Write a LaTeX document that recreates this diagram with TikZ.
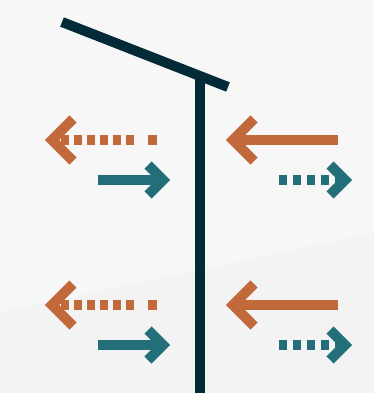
\documentclass[tikz,border=0pt]{standalone}
\usetikzlibrary{calc}
\definecolor{bgtop}{HTML}{F7F7F7}
\definecolor{bgbot}{HTML}{F3F3F3}
\definecolor{orng}{HTML}{C1693B}
\definecolor{teal2}{HTML}{226E79}
\definecolor{navy}{HTML}{032B37}
\tikzset{
  shaftO/.style={draw=orng, line width=10pt, line cap=butt},
  shaftT/.style={draw=teal2, line width=10pt, line cap=butt},
  headO/.style={draw=orng, line width=10pt, line cap=butt, line join=miter},
  headT/.style={draw=teal2, line width=10pt, line cap=butt, line join=miter},
  dotsO/.style={shaftO, dash pattern=on 8pt off 5pt},
  dotsT/.style={shaftT, dash pattern=on 8pt off 6pt},
  pole/.style={draw=navy, line width=10pt, line cap=butt}
}
\begin{document}
\begin{tikzpicture}[x=1pt,y=-1pt]
\useasboundingbox (0,0) rectangle (374,393);
\fill[bgtop] (0,0) rectangle (374,393);
\fill[bgbot] (0,312) -- (374,233) -- (374,393) -- (0,393) -- cycle;
% post and roof
\coordinate (roofA) at (62,22);
\coordinate (roofB) at (228,87);
\coordinate (poleTop) at (200,74);
\coordinate (poleBot) at (200,393);
\draw[pole] (poleTop) -- (poleBot);
\draw[pole] (roofA) -- (roofB);
\foreach \dy in {0,165}{
  % left: orange dotted, pointing left
  \coordinate (oLtip) at (52,140+\dy);
  \coordinate (oLs) at (61,140+\dy);
  \coordinate (oLe) at (134,140+\dy);
  \coordinate (oLsq1) at (148,140+\dy);
  \coordinate (oLsq2) at (157,140+\dy);
  \draw[dotsO] (oLs) -- (oLe);
  \draw[shaftO] (oLsq1) -- (oLsq2);
  \draw[headO] ($(oLtip)+(21,-21)$) -- (oLtip) -- ($(oLtip)+(21,21)$);
  % left: teal solid, pointing right
  \coordinate (tLs) at (98,180+\dy);
  \coordinate (tLtip) at (163,180+\dy);
  \draw[shaftT] (tLs) -- (tLtip);
  \draw[headT] ($(tLtip)+(-15,-15)$) -- (tLtip) -- ($(tLtip)+(-15,15)$);
  % right: orange solid, pointing left
  \coordinate (oRtip) at (233,140+\dy);
  \coordinate (oRe) at (338,140+\dy);
  \draw[shaftO] (oRtip) -- (oRe);
  \draw[headO] ($(oRtip)+(21,-21)$) -- (oRtip) -- ($(oRtip)+(21,21)$);
  % right: teal dotted, pointing right
  \coordinate (tRs) at (279,180+\dy);
  \coordinate (tRtip) at (345,180+\dy);
  \draw[dotsT] (tRs) -- (tRtip);
  \draw[headT] ($(tRtip)+(-15,-15)$) -- (tRtip) -- ($(tRtip)+(-15,15)$);
}
\end{tikzpicture}
\end{document}
